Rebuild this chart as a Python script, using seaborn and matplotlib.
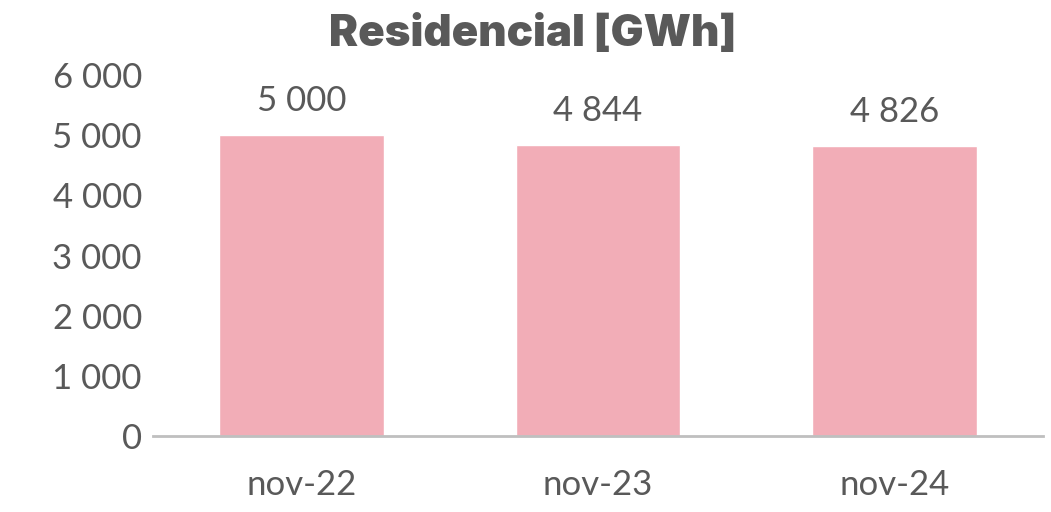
import matplotlib
matplotlib.use("Agg")
import matplotlib.pyplot as plt
import seaborn as sns
import pandas as pd

categories = ["nov-22", "nov-23", "nov-24"]
values = [5000, 4844, 4826]
yticks = [0, 1000, 2000, 3000, 4000, 5000, 6000]

def fmt(v):
    return f"{v:,.0f}".replace(",", " ")

sns.set_theme(style="white")
plt.rcParams['font.family'] = ['Lato', 'DejaVu Sans']

df = pd.DataFrame({"cat": categories, "val": values})
fig = plt.figure(figsize=(10.51, 5.12), dpi=100)
ax = fig.add_axes([0.1456, 0.1484, 0.8468, 0.7051])
sns.barplot(data=df, x="cat", y="val", color="#F2ADB7", saturation=1, width=0.555, ax=ax)

txt = "#595959"
ax.set_ylim(0, 6000)
ax.set_xlim(-0.5, 2.5)
ax.set_yticks(yticks)
ax.set_yticklabels([fmt(v) for v in yticks], fontsize=25, color=txt)
ax.set_xticklabels(categories, fontsize=25, color=txt)
ax.tick_params(axis='x', length=0, pad=24)
ax.tick_params(axis='y', length=0, pad=8)
ax.set_xlabel("")
ax.set_ylabel("")
for s in ["top", "right", "left"]:
    ax.spines[s].set_visible(False)
ax.spines["bottom"].set_color("#BFBFBF")
ax.spines["bottom"].set_linewidth(2)

for i, v in enumerate(values):
    ax.annotate(fmt(v), (i, v), xytext=(0, 13), textcoords="offset points",
                ha="center", va="bottom", fontsize=25, color=txt)

fig.text(0.507, 0.932, "Residencial [GWh]", ha="center", va="center",
         fontsize=31.5, fontweight="black", color=txt, family=["Inter", "DejaVu Sans"])

fig.savefig("out.png", dpi=100)
